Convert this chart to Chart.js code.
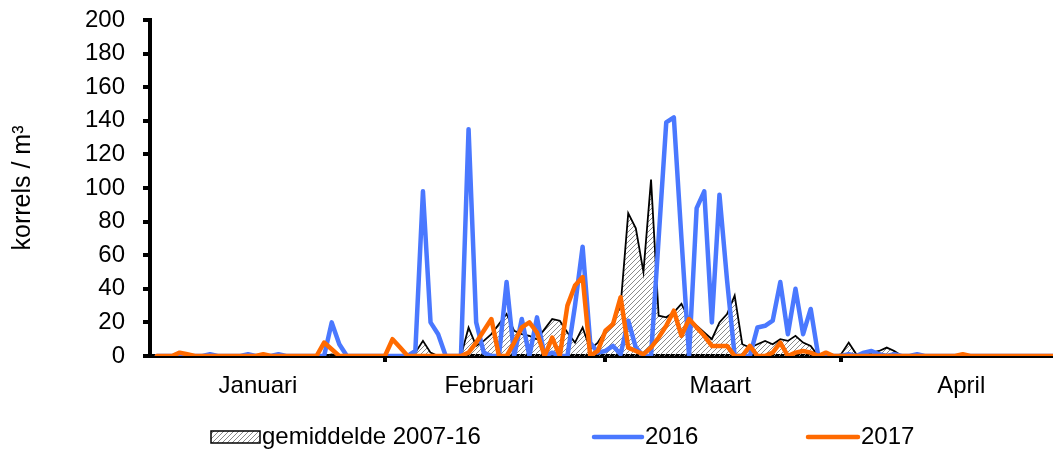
<!DOCTYPE html>
<html>
<head>
<meta charset="utf-8">
<script src="https://cdn.jsdelivr.net/npm/chart.js@4.4.0/dist/chart.umd.min.js"></script>
<style>
  html, body { margin: 0; padding: 0; background: #fff; overflow: hidden; }
  #wrap { width: 1080px; height: 455px; }
</style>
</head>
<body>
<div id="wrap"><canvas id="chart" width="1080" height="455"></canvas></div>
<script>
// Daily counts from 1 January to 30 April, day index 0..120
const days = Array.from({ length: 121 }, (_, i) => i);

const avg0716 = [
  0, 0, 0, 0, 0, 0, 0, 0, 0, 0,
  0, 0, 0, 0, 0, 0, 0, 0, 0, 0,
  0, 0, 0, 1, 0, 0, 0, 0, 0, 0,
  0, 0, 0, 0, 2, 9, 2, 0, 0, 0,
  0, 17, 6, 9, 13, 19, 25, 15, 13, 12,
  10, 16, 22, 21, 14, 8, 17, 4, 8, 15,
  20, 30, 85, 76, 50, 105, 24, 23, 26, 31,
  22, 18, 14, 10, 20, 25, 36, 7, 5, 7,
  9, 7, 10, 9, 12, 8, 6, 0, 1, 0,
  1, 8, 1, 1, 2, 3, 5, 3, 0, 0,
  0, 0, 0, 0, 0, 0, 0, 0, 0, 0,
  0, 0, 0, 0, 0, 0, 0, 0, 0, 0,
  0
];

const y2016 = [
  0, 0, 0, 0, 0, 0, 0, 1, 0, 0,
  0, 0, 1, 0, 0, 0, 1, 0, 0, 0,
  0, 0, 0, 20, 7, 0, 0, 0, 0, 0,
  0, 0, 0, 0, 3, 98, 20, 13, 0, 0,
  0, 135, 20, 2, 0, 0, 44, 0, 22, 0,
  23, 0, 2, 0, 0, 30, 65, 8, 2, 3,
  6, 1, 21, 5, 0, 0, 70, 139, 142, 70,
  0, 88, 98, 20, 96, 45, 0, 0, 0, 17,
  18, 21, 44, 13, 40, 13, 28, 0, 1, 0,
  0, 1, 0, 2, 3, 1, 0, 1, 0, 0,
  1, 0, 0, 0, 0, 0, 0, 0, 0, 0,
  0, 0, 0, 0, 0, 0, 0, 0, 0, 0,
  0
];

const y2017 = [
  0, 0, 0, 2, 1, 0, 0, 0, 0, 0,
  0, 0, 0, 0, 1, 0, 0, 0, 0, 0,
  0, 0, 8, 4, 0, 0, 0, 0, 0, 0,
  0, 10, 5, 0, 0, 0, 0, 0, 0, 0,
  0, 2, 8, 15, 22, 0, 0, 8, 17, 20,
  14, 0, 11, 0, 30, 42, 47, 0, 3, 15,
  19, 35, 5, 3, 1, 5, 11, 18, 27, 12,
  22, 17, 12, 6, 6, 6, 0, 0, 6, 0,
  0, 2, 8, 0, 2, 3, 2, 0, 2, 0,
  0, 0, 0, 0, 0, 0, 0, 0, 0, 0,
  0, 0, 0, 0, 0, 0, 1, 0, 0, 0,
  0, 0, 0, 0, 0, 0, 0, 0, 0, 0,
  0
];

const monthNames = ['Januari', 'Februari', 'Maart', 'April'];
const monthCentres = [13.3, 43.7, 74.1, 105.8];
const monthStarts = [30, 59, 90];
const seriesNames = ['gemiddelde 2007-16', '2016', '2017'];

const BLUE = '#4a78ff';
const ORANGE = '#ff6a00';
const FONT = '"Liberation Sans", Arial, sans-serif';

// diagonal hatching for the long-term average
function makeHatch() {
  const c = document.createElement('canvas');
  c.width = 5;
  c.height = 5;
  const g = c.getContext('2d');
  g.strokeStyle = '#8a8a8a';
  g.lineWidth = 1;
  g.beginPath();
  g.moveTo(-1, 6); g.lineTo(6, -1);
  g.moveTo(-1, 1); g.lineTo(1, -1);
  g.moveTo(4, 6); g.lineTo(6, 4);
  g.stroke();
  return g.createPattern(c, 'repeat');
}
const hatch = makeHatch();

// legend row under the axis
const bottomLegend = {
  id: 'bottomLegend',
  afterDraw(chart) {
    const ctx = chart.ctx;
    const y = 437;
    ctx.save();
    ctx.font = '24px ' + FONT;
    ctx.textBaseline = 'middle';
    ctx.textAlign = 'left';

    ctx.fillStyle = '#fff';
    ctx.fillRect(211, 431, 49, 12);
    ctx.fillStyle = hatch;
    ctx.fillRect(211, 431, 49, 12);
    ctx.strokeStyle = '#000';
    ctx.lineWidth = 1.5;
    ctx.strokeRect(211, 431, 49, 12);
    ctx.fillStyle = '#000';
    ctx.fillText(seriesNames[0], 262, y);

    ctx.lineCap = 'round';
    ctx.lineWidth = 4.5;
    ctx.strokeStyle = BLUE;
    ctx.beginPath(); ctx.moveTo(594, y); ctx.lineTo(642, y); ctx.stroke();
    ctx.fillText(seriesNames[1], 645, y);

    ctx.strokeStyle = ORANGE;
    ctx.beginPath(); ctx.moveTo(808, y); ctx.lineTo(858, y); ctx.stroke();
    ctx.fillText(seriesNames[2], 861, y);
    ctx.restore();
  }
};

new Chart(document.getElementById('chart'), {
  type: 'line',
  data: {
    labels: days,
    datasets: [
      {
        label: seriesNames[0],
        data: avg0716,
        borderColor: '#000',
        borderWidth: 1.8,
        backgroundColor: hatch,
        fill: 'origin',
        order: 3
      },
      {
        label: seriesNames[1],
        data: y2016,
        borderColor: BLUE,
        borderWidth: 4.5,
        borderJoinStyle: 'round',
        borderCapStyle: 'round',
        fill: false,
        order: 2
      },
      {
        label: seriesNames[2],
        data: y2017,
        borderColor: ORANGE,
        borderWidth: 4.5,
        borderJoinStyle: 'round',
        borderCapStyle: 'round',
        fill: false,
        order: 1
      }
    ]
  },
  options: {
    responsive: false,
    animation: false,
    devicePixelRatio: 1,
    layout: { padding: { top: 20, right: 7, left: 0, bottom: 0 } },
    elements: { point: { radius: 0 }, line: { tension: 0 } },
    plugins: { legend: { display: false }, tooltip: { enabled: false } },
    scales: {
      x: {
        type: 'linear',
        position: 'bottom',
        weight: 0,
        min: -0.9,
        max: 120.5,
        afterBuildTicks: s => { s.ticks = monthStarts.map(v => ({ value: v })); },
        afterFit: s => { s.height = 8; },
        ticks: { display: false },
        grid: { drawOnChartArea: false, tickLength: 6, lineWidth: 4, color: '#000' },
        border: { color: '#000', width: 4 }
      },
      xl: {
        type: 'linear',
        position: 'bottom',
        weight: 1,
        min: -0.9,
        max: 120.5,
        afterBuildTicks: s => { s.ticks = monthCentres.map(v => ({ value: v })); },
        afterFit: s => { s.height = 91; },
        ticks: {
          padding: 0,
          autoSkip: false,
          maxRotation: 0,
          color: '#000',
          font: { family: FONT, size: 24 },
          callback: (v, i) => monthNames[i]
        },
        grid: { display: false },
        border: { display: false }
      },
      y: {
        min: 0,
        max: 200,
        afterFit: s => {
          s.width = 150;
          s.paddingTop = 0;
          s.paddingBottom = 0;
        },
        ticks: { stepSize: 20, padding: 18, color: '#000', font: { family: FONT, size: 24 } },
        grid: { drawOnChartArea: false, tickLength: 7, lineWidth: 4, color: '#000' },
        border: { color: '#000', width: 4 },
        title: {
          display: true,
          text: 'korrels / m³',
          color: '#000',
          font: { family: FONT, size: 25 },
          padding: { top: 8, bottom: 0 }
        }
      }
    }
  },
  plugins: [bottomLegend]
});
</script>
</body>
</html>
